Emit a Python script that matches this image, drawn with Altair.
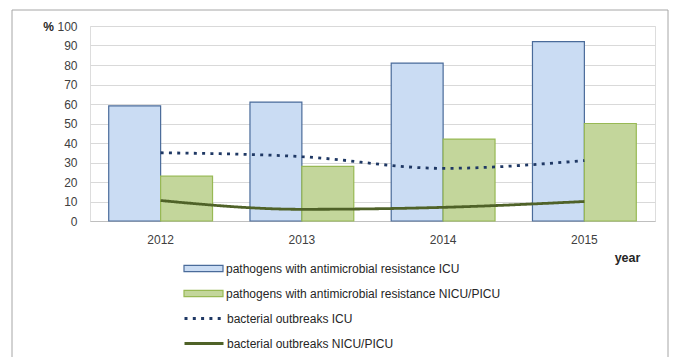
import altair as alt
import pandas as pd

years = ["2012", "2013", "2014", "2015"]
bar_series = ["pathogens with antimicrobial resistance ICU",
              "pathogens with antimicrobial resistance NICU/PICU"]
line_series = ["bacterial outbreaks ICU", "bacterial outbreaks NICU/PICU"]
icu_resist = [59, 61, 81, 92]
nicu_resist = [23, 28, 42, 50]
icu_outbreak = [35, 33, 27, 31]
nicu_outbreak = [10.5, 6, 7, 10]

bar_fill = ["#cadcf3", "#c3d69b"]
bar_stroke = ["#4a6b9a", "#98b954"]
line_color = ["#1f3864", "#4f6228"]

bar_rows = []
for i, y in enumerate(years):
    bar_rows.append({"year": y, "series": bar_series[0], "value": icu_resist[i]})
    bar_rows.append({"year": y, "series": bar_series[1], "value": nicu_resist[i]})
line_rows = []
for i, y in enumerate(years):
    line_rows.append({"year": y, "line": line_series[0], "value": icu_outbreak[i]})
    line_rows.append({"year": y, "line": line_series[1], "value": nicu_outbreak[i]})

bars_df = pd.DataFrame(bar_rows)
lines_df = pd.DataFrame(line_rows)

FONT = "Liberation Sans"
W, H = 565, 195

xscale = alt.Scale(domain=years, paddingInner=0.265, paddingOuter=0.1325)
yscale = alt.Scale(domain=[0, 100])

x_axis = alt.Axis(title="year", labelAngle=0, ticks=False, labelPadding=13,
                  domainColor="#bfbfbf", labelColor="#404040", labelFontSize=12,
                  titleFontWeight="bold", titleFontSize=12.5, titleColor="#262626",
                  titleX=537, titleY=36, titleAlign="center", titleBaseline="middle")
y_axis = alt.Axis(values=list(range(0, 101, 10)), title="%", titleAngle=0,
                  titleX=-42, titleY=0, titleAlign="center", titleBaseline="middle",
                  titleFontWeight="bold", titleFontSize=12, titleColor="#262626",
                  domain=False, ticks=False, labelPadding=13, gridColor="#d9d9d9",
                  labelColor="#404040", labelFontSize=12, labelOverlap=False)

x_enc = alt.X("year:N", scale=xscale, sort=years, axis=x_axis)
y_enc = alt.Y("value:Q", scale=yscale, axis=y_axis)


def pick(names, vals):
    return alt.ExprRef(expr=f"datum.value === '{names[0]}' ? '{vals[0]}' : '{vals[1]}'")


bar_legend = alt.Legend(title=None, orient="none", legendX=93, legendY=235,
                        symbolType="M-1,-0.16H1V0.16H-1Z", symbolSize=1521,
                        symbolStrokeWidth=1.2, labelFontSize=12, labelColor="#262626",
                        labelOffset=2, rowPadding=10, clipHeight=15, labelLimit=500,
                        symbolStrokeColor=pick(bar_series, bar_stroke),
                        symbolOpacity=1)
line_legend = alt.Legend(title=None, orient="none", legendX=93, legendY=285,
                         symbolType="stroke", symbolSize=1521, symbolStrokeWidth=3,
                         labelFontSize=12, labelColor="#262626", labelOffset=2,
                         rowPadding=10, clipHeight=15, labelLimit=500,
                         symbolStrokeColor=pick(line_series, line_color))

frame = alt.Chart(pd.DataFrame({"a": [0]})).mark_rect(
    fill="transparent", stroke="#a6a6a6", strokeWidth=1
).encode(x=alt.value(-78), x2=alt.value(578), y=alt.value(-16), y2=alt.value(345))

bars = alt.Chart(bars_df).mark_bar(strokeWidth=1.2).encode(
    x=x_enc,
    xOffset=alt.XOffset("series:N", sort=bar_series),
    y=y_enc,
    fill=alt.Fill("series:N", sort=bar_series,
                  scale=alt.Scale(domain=bar_series, range=bar_fill),
                  legend=bar_legend),
    stroke=alt.Stroke("series:N", sort=bar_series,
                      scale=alt.Scale(domain=bar_series, range=bar_stroke),
                      legend=None),
)

lines = alt.Chart(lines_df).mark_line(interpolate="monotone", strokeWidth=2.8).encode(
    x=x_enc,
    y=y_enc,
    stroke=alt.Stroke("line:N", sort=line_series,
                      scale=alt.Scale(domain=line_series, range=line_color),
                      legend=None),
    strokeDash=alt.StrokeDash("line:N", sort=line_series,
                              scale=alt.Scale(domain=line_series, range=[[3, 5.3], [1, 0]]),
                              legend=line_legend),
)

chart = alt.layer(frame, bars, lines).resolve_scale(stroke="independent").properties(
    width=W, height=H,
    autosize=alt.AutoSizeParams(type="none"),
    padding={"left": 90, "top": 26, "right": 23, "bottom": 136},
    background="white",
).configure_view(stroke=None).configure(font=FONT)

chart.save("out.html", embed_options={"renderer": "svg", "actions": False})
